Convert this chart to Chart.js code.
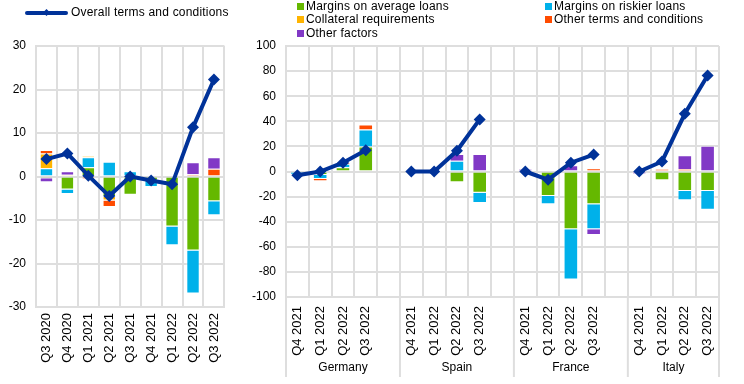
<!DOCTYPE html>
<html>
<head>
<meta charset="utf-8">
<script src="https://cdn.jsdelivr.net/npm/chart.js@4.4.0/dist/chart.umd.min.js"></script>
<style>
  body { margin: 0; background: #fff; font-family: 'Liberation Sans', Arial, sans-serif; }
  #wrap { position: relative; width: 744px; height: 384px; overflow: hidden; }
  #cLeft { position: absolute; left: 0; top: 0; }
  #cRight { position: absolute; left: 240px; top: 0; }
  .leg { position: absolute; font-size: 12px; letter-spacing: 0.2px; color: #000; white-space: nowrap; line-height: 13px; }
  .sq { display: inline-block; width: 7px; height: 7px; margin-right: 2px; }
</style>
</head>
<body>
<div id="wrap">
  <canvas id="cLeft" width="236" height="384"></canvas>
  <canvas id="cRight" width="504" height="384"></canvas>

  <div style="position:absolute;left:25px;top:11px;width:43px;height:4px;background:#003299;border-radius:2px"></div>
  <div style="position:absolute;left:44px;top:10px;width:5px;height:5px;background:#003299;transform:rotate(45deg)"></div>
  <div class="leg" style="left:71px;top:6px">Overall terms and conditions</div>

  <div class="leg" style="left:297px;top:0px"><span class="sq" style="background:#65b800"></span>Margins on average loans</div>
  <div class="leg" style="left:297px;top:13px"><span class="sq" style="background:#ffb400"></span>Collateral requirements</div>
  <div class="leg" style="left:297px;top:27px"><span class="sq" style="background:#8139c6"></span>Other factors</div>
  <div class="leg" style="left:545px;top:0px"><span class="sq" style="background:#00b1ea"></span>Margins on riskier loans</div>
  <div class="leg" style="left:545px;top:13px"><span class="sq" style="background:#ff4b00"></span>Other terms and conditions</div>
</div>

<script>
// euro area (left panel)
const leftQuarters = ['Q3 2020', 'Q4 2020', 'Q1 2021', 'Q2 2021', 'Q3 2021', 'Q4 2021', 'Q1 2022', 'Q2 2022', 'Q3 2022'];
const leftAverage    = [-0.4, -3.0, 2.1, -4.7, -4.2, -1.0, -11.5, -17.0, -5.7];
const leftRiskier    = [1.9, -1.0, 2.3, 3.4, 1.2, -1.4, -4.3, -9.9, -3.2];
const leftCollateral = [3.4, 0.4, 0.3, -0.8, 0, 0, 0, 0, 0];
const leftOtherTerms = [0.8, 0, -0.6, -1.5, 0, 0, 0, 0.5, 1.8];
const leftOtherFact  = [-0.9, 0.8, 0, 0, 0, 0, 0, 2.8, 2.6];
const leftOverall    = [4.0, 5.3, 0.2, -4.5, 0, -0.9, -1.8, 11.3, 22.3];

// countries (right panel), 4 quarters each: Germany, Spain, France, Italy
const countries = ['Germany', 'Spain', 'France', 'Italy'];
const rightQuarters = ['Q4 2021', 'Q1 2022', 'Q2 2022', 'Q3 2022'];
const rightAverage    = [0, -2.7, 3.4, 20,  0, 0, -8.5, -17,   0, -19.5, -46, -26,   0, -7, -15.5, -15.5];
const rightRiskier    = [-2.6, -3.3, 2.7, 13.5, 0, 0, 8.5, -8, 0, -6.5, -40, -20,    0, 0, -7.5, -15];
const rightCollateral = [0, 0, 0, 0,      0, 0, 0, 0,        0, 0, 0, 0,           0, 0, 0, 0];
const rightOtherTerms = [0, -1.8, 1.3, 4, 0, 0, 0, 0,        0, 0, 0, 2.5,         0, 2, 2, 0];
const rightOtherFact  = [0, 0, 0, 0,      0, 0, 5.5, 14,     2, 0, 5, -4.5,        -2, 0, 11, 20.5];
const rightOverall    = [-3, 0, 7, 17,    0, 0, 16.5, 41.5,  0, -6.5, 7, 13.5,     0, 8, 46, 76.5];

const COLORS = {
  average: '#65b800',
  riskier: '#00b1ea',
  collateral: '#ffb400',
  otherTerms: '#ff4b00',
  otherFact: '#8139c6',
  overall: '#003299'
};
const FONT = "'Liberation Sans', Arial, sans-serif";
const GRID = '#dedede';

// put an empty slot between countries
function withGaps(arr) {
  const out = [];
  countries.forEach((c, i) => {
    out.push(...arr.slice(i * 4, i * 4 + 4));
    if (i < countries.length - 1) out.push(null);
  });
  return out;
}
const rightLabels = [];
countries.forEach((c, i) => {
  rightLabels.push(...rightQuarters);
  if (i < countries.length - 1) rightLabels.push('');
});

function barSet(label, data, color) {
  return {
    type: 'bar', label: label, data: data,
    backgroundColor: color,
    borderColor: 'rgba(255,255,255,0.55)',
    borderWidth: 1,
    stack: 'factors', order: 2,
    barPercentage: 1, categoryPercentage: 0.64
  };
}
function lineSet(data) {
  return {
    type: 'line', label: 'Overall terms and conditions', data: data,
    borderColor: COLORS.overall, backgroundColor: COLORS.overall,
    borderWidth: 4, pointStyle: 'rectRot', pointRadius: 6,
    pointBackgroundColor: COLORS.overall, pointBorderWidth: 0,
    spanGaps: false, stack: 'overall', order: 0, tension: 0
  };
}

function makeOptions(yMin, yMax, step, yWidth, xHeight, pad, tickPad) {
  return {
    responsive: false,
    animation: false,
    layout: { padding: pad },
    plugins: { legend: { display: false }, tooltip: { enabled: false } },
    scales: {
      x: {
        stacked: true,
        grid: { color: GRID, lineWidth: 2, drawTicks: false, offset: true },
        border: { color: GRID, width: 2 },
        ticks: {
          color: '#000', font: { family: FONT, size: 13 },
          minRotation: 90, maxRotation: 90, autoSkip: false, padding: tickPad
        },
        afterFit: s => { s.height = xHeight; }
      },
      y: {
        stacked: true,
        min: yMin, max: yMax,
        grid: { color: GRID, lineWidth: 2, drawTicks: false },
        border: { color: GRID, width: 2 },
        ticks: { stepSize: step, color: '#000', font: { family: FONT, size: 12 }, padding: 10 },
        afterFit: s => { s.width = yWidth; }
      }
    }
  };
}

// country names and separators under the quarter labels
const countryAxis = {
  id: 'countryAxis',
  afterDraw(chart) {
    const x = chart.scales.x;
    const ctx = chart.ctx;
    const area = chart.chartArea;
    const w = x.getPixelForValue(1) - x.getPixelForValue(0);
    const edge = i => x.getPixelForValue(i) - w / 2;
    ctx.save();
    ctx.strokeStyle = GRID;
    ctx.lineWidth = 2;
    ctx.fillStyle = '#000';
    ctx.font = '12px ' + FONT;
    ctx.textAlign = 'center';
    ctx.textBaseline = 'middle';
    let start = 0;
    countries.forEach((c, i) => {
      const end = start + 4;
      const x0 = edge(start), x1 = edge(end);
      ctx.beginPath();
      ctx.moveTo(x0, area.bottom);
      ctx.lineTo(x0, area.bottom + 80);
      ctx.stroke();
      if (i === countries.length - 1) {
        ctx.beginPath();
        ctx.moveTo(x1, area.bottom);
        ctx.lineTo(x1, area.bottom + 80);
        ctx.stroke();
      }
      const xe = i === countries.length - 1 ? x1 : edge(end + 1);
      ctx.fillText(c, (x0 + xe) / 2, area.bottom + 71);
      start = end + 1;
    });
    ctx.restore();
  }
};

new Chart(document.getElementById('cLeft'), {
  data: {
    labels: leftQuarters,
    datasets: [
      lineSet(leftOverall),
      barSet('Margins on average loans', leftAverage, COLORS.average),
      barSet('Margins on riskier loans', leftRiskier, COLORS.riskier),
      barSet('Collateral requirements', leftCollateral, COLORS.collateral),
      barSet('Other terms and conditions', leftOtherTerms, COLORS.otherTerms),
      barSet('Other factors', leftOtherFact, COLORS.otherFact)
    ]
  },
  options: makeOptions(-30, 30, 10, 36, 77, { top: 46, right: 8, left: 0, bottom: 0 }, 6)
});

new Chart(document.getElementById('cRight'), {
  data: {
    labels: rightLabels,
    datasets: [
      lineSet(withGaps(rightOverall)),
      barSet('Margins on average loans', withGaps(rightAverage), COLORS.average),
      barSet('Margins on riskier loans', withGaps(rightRiskier), COLORS.riskier),
      barSet('Collateral requirements', withGaps(rightCollateral), COLORS.collateral),
      barSet('Other terms and conditions', withGaps(rightOtherTerms), COLORS.otherTerms),
      barSet('Other factors', withGaps(rightOtherFact), COLORS.otherFact)
    ]
  },
  options: makeOptions(-100, 100, 20, 46, 87, { top: 46, right: 25, left: 0, bottom: 0 }, 9),
  plugins: [countryAxis]
});
</script>
</body>
</html>
